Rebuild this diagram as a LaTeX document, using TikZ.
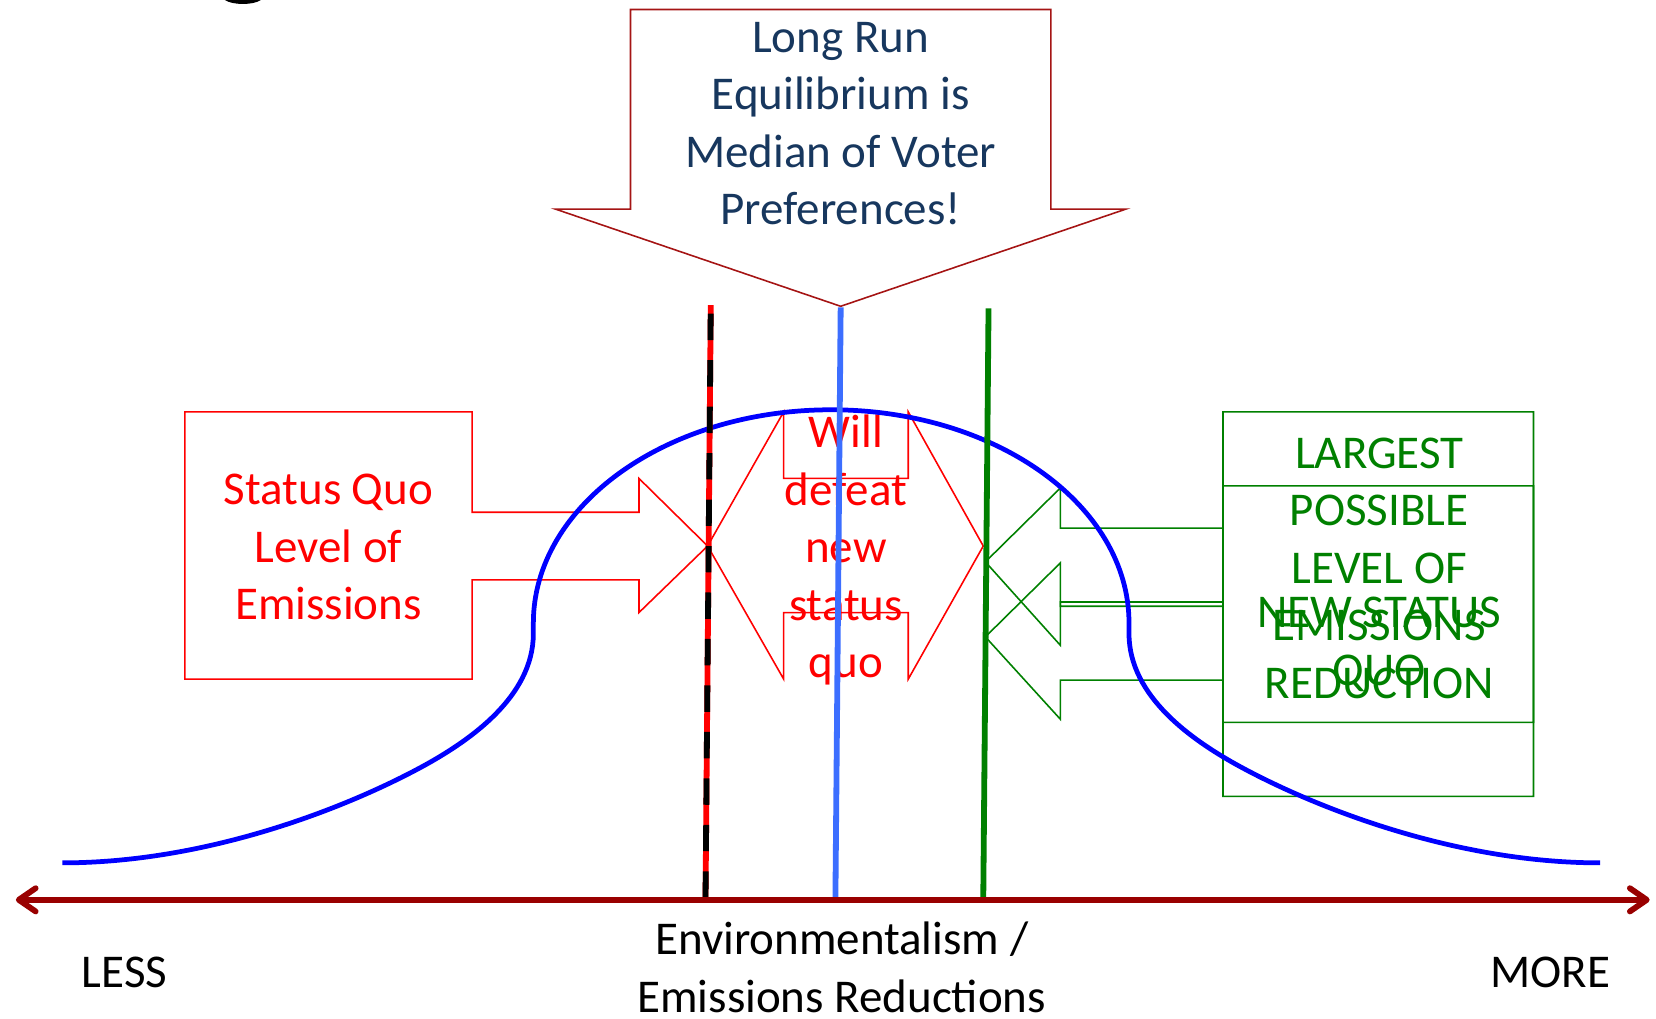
\documentclass[tikz,border=0pt]{standalone}
\usepackage{fontspec}
\setmainfont{Carlito}
\usetikzlibrary{arrows.meta}
\definecolor{topred}{RGB}{165,20,20}
\definecolor{axisred}{RGB}{153,0,0}
\definecolor{navy}{RGB}{23,55,94}
\definecolor{medblue}{RGB}{60,110,255}
\definecolor{pgreen}{RGB}{0,128,0}
\definecolor{pred}{RGB}{255,0,0}
\definecolor{pblue}{RGB}{0,0,255}
\tikzset{
  lbl/.style={font=\fontsize{44.5}{54.5}\selectfont, align=center, inner sep=0pt},
  callout/.style={line width=1.5pt, line join=miter},
  vline/.style={line width=5.5pt},
  axisline/.style={axisred, line width=5.5pt, >={Straight Barb[length=16pt,width=22pt,round]}, <->},
}
\begin{document}
\begin{tikzpicture}[x=1pt,y=-1pt]
\useasboundingbox (0,0) rectangle (1568,964);
% fragment of a cut-off title glyph
\fill[black] (213,0) .. controls (220,5) and (240,5) .. (247,0) -- cycle;

% top down-arrow callout
\draw[callout, topred] (597,9) -- (995,9) -- (995,198) -- (1066,198) -- (796,290) -- (526,198) -- (597,198) -- cycle;
\node[lbl, text=navy] (lr) at (796,117) {Long Run\\Equilibrium is\\Median of Voter\\Preferences!};

% status quo callout (right arrow)
\draw[callout, pred] (175,390) -- (447,390) -- (447,485) -- (605,485) -- (605,453) -- (670,517) -- (605,580) -- (605,549) -- (447,549) -- (447,643) -- (175,643) -- cycle;
\node[lbl, text=pred] (sq) at (311,518) {Status Quo\\Level of\\Emissions};

% will defeat callout (left-right arrow)
\draw[callout, pred] (670,517) -- (742,390) -- (742,453) -- (860,453) -- (860,390) -- (931,517) -- (860,643) -- (860,580) -- (742,580) -- (742,643) -- cycle;
\node[lbl, text=pred] (wd) at (801,521) {Will\\defeat\\new\\status\\quo};

% green callouts (left arrows)
\draw[callout, pgreen] (933,532) -- (1004,462) -- (1004,500) -- (1158,500) -- (1158,390) -- (1452,390) -- (1452,684) -- (1158,684) -- (1158,570) -- (1004,570) -- (1004,611) -- cycle;
\draw[callout, pgreen] (933,603) -- (1004,533) -- (1004,574) -- (1158,574) -- (1158,460) -- (1452,460) -- (1452,754) -- (1158,754) -- (1158,644) -- (1004,644) -- (1004,681) -- cycle;
\node[lbl, text=pgreen] (lg) at (1306,538) {LARGEST\\POSSIBLE\\LEVEL OF\\EMISSIONS\\REDUCTION};
\node[lbl, text=pgreen] (ns) at (1306,610) {NEW STATUS\\QUO};

% bell curve
\draw[pblue, line width=4.5pt] (59,817) .. controls (200,817) and (335,762) .. (405,723)
  .. controls (444,701) and (505,660) .. (505,600) -- (505,590)
  .. controls (505,478.4) and (631.3,388) .. (787,388)
  .. controls (942.7,388) and (1069,478.4) .. (1069,590) -- (1069,600)
  .. controls (1069,660) and (1130,701) .. (1169,723)
  .. controls (1239,762) and (1374,817) .. (1515,817);

% vertical lines
\coordinate (rt) at (673,289); \coordinate (rb) at (668,852);
\coordinate (bt) at (796,291); \coordinate (bb) at (791,852);
\coordinate (gt) at (936,292); \coordinate (gb) at (931,852);
\draw[vline, pred] (rt) -- (rb);
\draw[vline, black, dash pattern=on 0pt off 8pt on 25pt off 11pt] (rt) -- (rb);
\draw[vline, medblue] (bt) -- (bb);
\draw[vline, pgreen] (gt) -- (gb);

% axis
\coordinate (al) at (15,852); \coordinate (ar) at (1562,852);
\draw[axisline] (al) -- (ar);

\node[lbl] (less) at (118,921) {LESS};
\node[lbl] (more) at (1468,921) {MORE};
\node[lbl] (env) at (797,916) {Environmentalism /\\Emissions Reductions};
\end{tikzpicture}
\end{document}
